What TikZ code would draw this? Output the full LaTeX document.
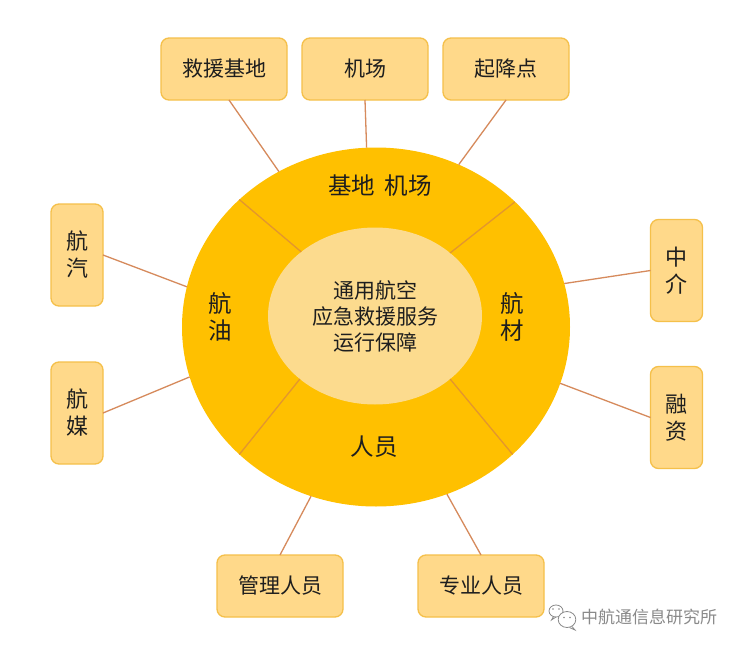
\documentclass[tikz,border=0pt]{standalone}
\usepackage{fontspec}
\setmainfont{Noto Sans CJK SC}
\usetikzlibrary{shapes.geometric}
\definecolor{ringfill}{HTML}{FFC000}
\definecolor{corefill}{HTML}{FCDB8E}
\definecolor{boxfill}{HTML}{FFD98A}
\definecolor{boxline}{HTML}{F5C04A}
\definecolor{linkcol}{HTML}{D68A5C}
\definecolor{divcol}{HTML}{E3962E}
\definecolor{txt}{HTML}{1E1E1E}
\definecolor{wm}{HTML}{8A8A8A}
\begin{document}
\begin{tikzpicture}[x=1pt,y=-1pt,
  hbox/.style={draw=boxline,line width=1.3pt,fill=boxfill,rounded corners=8pt,
    minimum width=126pt,minimum height=62pt,inner sep=0pt,outer sep=0pt,
    text=txt,font=\fontsize{21}{24}\selectfont},
  vbox/.style={draw=boxline,line width=1.3pt,fill=boxfill,rounded corners=8pt,
    minimum width=52pt,minimum height=102pt,inner sep=0pt,outer sep=0pt,
    text=txt,align=center,font=\fontsize{22}{27}\selectfont},
  link/.style={draw=linkcol,line width=1.3pt},
  divider/.style={draw=divcol,line width=1.3pt},
  ringtxt/.style={text=txt,align=center,font=\fontsize{23.5}{27}\selectfont,inner sep=0pt},
]
\useasboundingbox (0,0) rectangle (748,648);
\fill[white] (0,0) rectangle (748,648);

% boxes
\node[hbox] (b1) at (224,69) {救援基地};
\node[hbox] (b2) at (365,69) {机场};
\node[hbox] (b3) at (506,69) {起降点};
\node[vbox] (l1) at (77,255) {航\\汽};
\node[vbox] (l2) at (77,413) {航\\媒};
\node[vbox] (r1) at (676.5,270.5) {中\\介};
\node[vbox] (r2) at (676.5,417.5) {融\\资};
\node[hbox] (d1) at (280,586) {管理人员};
\node[hbox] (d2) at (481,586) {专业人员};

% ring and core
\node[ellipse,fill=ringfill,minimum width=388pt,minimum height=359pt,inner sep=0pt,outer sep=0pt] (ring) at (376,327) {};
\node[ellipse,fill=corefill,minimum width=214pt,minimum height=177pt,inner sep=0pt,outer sep=0pt] (core) at (375,316) {};

% connectors
\draw[link] ([xshift=5pt]b1.south) -- (ring.122.5);
\draw[link] (b2.south) -- (ring.93);
\draw[link] (b3.south) -- (ring.63.6);
\draw[link] (l1.east) -- (ring.168);
\draw[link] (l2.east) -- (ring.195.6);
\draw[link] (r1.west) -- (ring.13.4);
\draw[link] (r2.west) -- (ring.-17);
\draw[link] (d1.north) -- (ring.249.8);
\draw[link] (d2.north) -- (ring.293);

% dividers
\draw[divider] (core.139.4) -- (ring.137.4);
\draw[divider] (core.40.2) -- (ring.42.4);
\draw[divider] (core.220.5) -- (ring.223);
\draw[divider] (core.320.2) -- (ring.317.2);

% ring labels
\node[ringtxt] (t1) at (380,186) {基地\hspace{0.4em}机场};
\node[ringtxt] (t2) at (220,316.5) {航\\油};
\node[ringtxt] (t3) at (512,316.5) {航\\材};
\node[ringtxt] (t4) at (374,447) {人员};
\node[ringtxt,font=\fontsize{21}{26}\selectfont] (t5) at (375,316) {通用航空\\应急救援服务\\运行保障};

% watermark
\begin{scope}[draw=wm,line width=0.8pt]
  \draw (556,611) ellipse (7pt and 6pt);
  \draw (553.5,616.5) -- (551.5,620) -- (556,617);
  \fill[white] (567,619.5) ellipse (8.8pt and 8pt);
  \draw (567,619.5) ellipse (8.8pt and 8pt);
  \draw (572,626.5) -- (575,630) -- (569.5,627.5);
  \fill[wm] (553,609) circle (0.9pt) (559,609) circle (0.9pt)
            (564,617.5) circle (0.9pt) (570,617.5) circle (0.9pt);
\end{scope}
\node[text=wm,font=\fontsize{17}{20}\selectfont,anchor=west,inner sep=0pt] (wmtext) at (581,617) {中航通信息研究所};
\end{tikzpicture}
\end{document}
